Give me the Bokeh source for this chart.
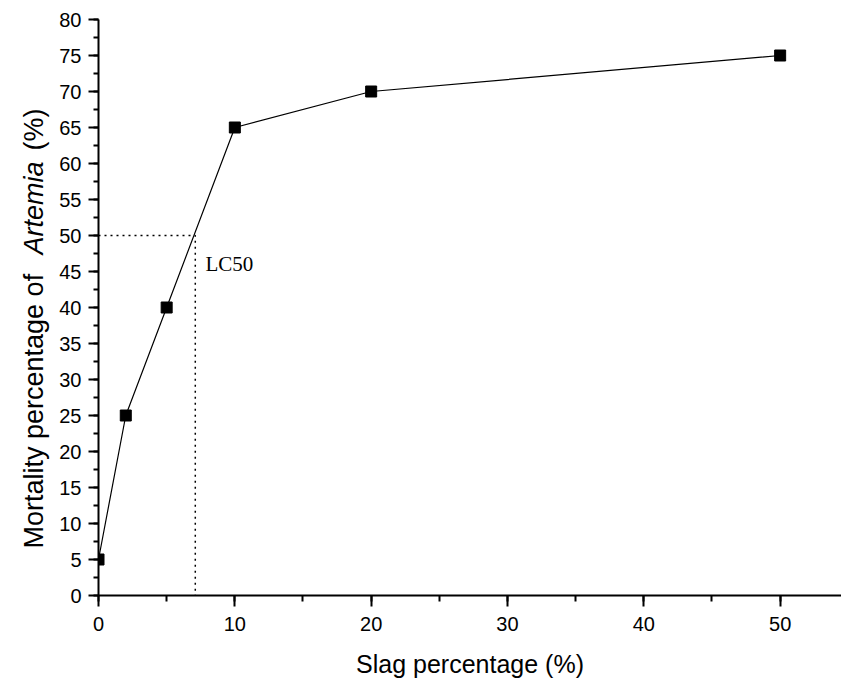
import math
from bokeh.plotting import figure
from bokeh.layouts import row
from bokeh.models import Range1d, SingleIntervalTicker, Label
from bokeh.embed import file_html
from bokeh.resources import INLINE

# Data
slag_pct = [0, 2, 5, 10, 20, 50]
mortality = [5, 25, 40, 65, 70, 75]
lc50_line_x = [0, 7.1, 7.1]
lc50_line_y = [50, 50, 0]
lc50_label = "LC50"
x_title = "Slag percentage (%)"
y_title_parts = ["Mortality percentage of", "Artemia", "(%)"]

FONT = "Liberation Sans"
LEFT_W = 56
TOP = 19
BOTTOM = 89

p = figure(width=841 - LEFT_W, height=684, output_backend="svg", toolbar_location=None,
           x_range=Range1d(0, 54.5), y_range=Range1d(0, 80),
           min_border_left=96 - LEFT_W, min_border_right=0, min_border_top=TOP, min_border_bottom=BOTTOM)
p.outline_line_color = None
p.xgrid.visible = False
p.ygrid.visible = False
p.background_fill_color = "white"
p.border_fill_color = "white"

for ax in (p.xaxis[0], p.yaxis[0]):
    ax.axis_line_width = 2
    ax.major_tick_line_width = 2
    ax.minor_tick_line_width = 2
    ax.major_tick_in = 0
    ax.minor_tick_in = 0
    ax.major_label_text_font = FONT
    ax.major_label_text_font_size = "20px"
    ax.major_label_text_color = "black"
    ax.axis_line_color = "black"
    ax.major_tick_line_color = "black"
    ax.minor_tick_line_color = "black"

p.xaxis[0].ticker = SingleIntervalTicker(interval=10, num_minor_ticks=2)
p.xaxis[0].major_tick_out = 11
p.xaxis[0].minor_tick_out = 6
p.xaxis[0].major_label_standoff = 10
p.xaxis[0].axis_label = x_title
p.xaxis[0].axis_label_text_font = FONT
p.xaxis[0].axis_label_text_font_size = "25px"
p.xaxis[0].axis_label_text_font_style = "normal"
p.xaxis[0].axis_label_text_color = "black"
p.xaxis[0].axis_label_standoff = 16

p.yaxis[0].ticker = SingleIntervalTicker(interval=5, num_minor_ticks=2)
p.yaxis[0].major_tick_out = 10
p.yaxis[0].minor_tick_out = 5
p.yaxis[0].major_label_standoff = 7

# LC50 dotted guide
p.line(lc50_line_x, lc50_line_y, line_color="black", line_width=1.5, line_dash="2 4")

# data
p.line(slag_pct, mortality, line_color="black", line_width=1.2)
p.scatter(slag_pct, mortality, marker="square", size=11, fill_color="black", line_color="black")

p.add_layout(Label(x=7.85, y=46.1, text=lc50_label, text_font="Liberation Serif",
                   text_font_size="21px", text_color="black", text_baseline="alphabetic"))

# Left panel holding the rotated y title (mixed styles); its frame is aligned with the
# main frame (pixel rows TOP..684-BOTTOM), so its y range is expressed in page pixels
t = figure(width=LEFT_W, height=684, output_backend="svg", toolbar_location=None,
           x_range=Range1d(0, LEFT_W), y_range=Range1d(684 - BOTTOM, TOP),
           x_axis_type=None, y_axis_type=None,
           min_border_left=0, min_border_right=0, min_border_top=TOP, min_border_bottom=BOTTOM)
t.outline_line_color = None
t.xgrid.visible = False
t.ygrid.visible = False
t.background_fill_color = "white"
t.border_fill_color = "white"

starts = [548, 254, 150]
styles = ["normal", "italic", "normal"]
for txt, ys, st in zip(y_title_parts, starts, styles):
    t.add_layout(Label(x=33, y=ys, text=txt, angle=math.pi / 2, text_font=FONT,
                       text_font_size="27px", text_font_style=st, text_color="black",
                       text_align="left", text_baseline="alphabetic"))

layout = row(t, p, spacing=0)
open("out.html", "w").write(file_html(layout, INLINE))
